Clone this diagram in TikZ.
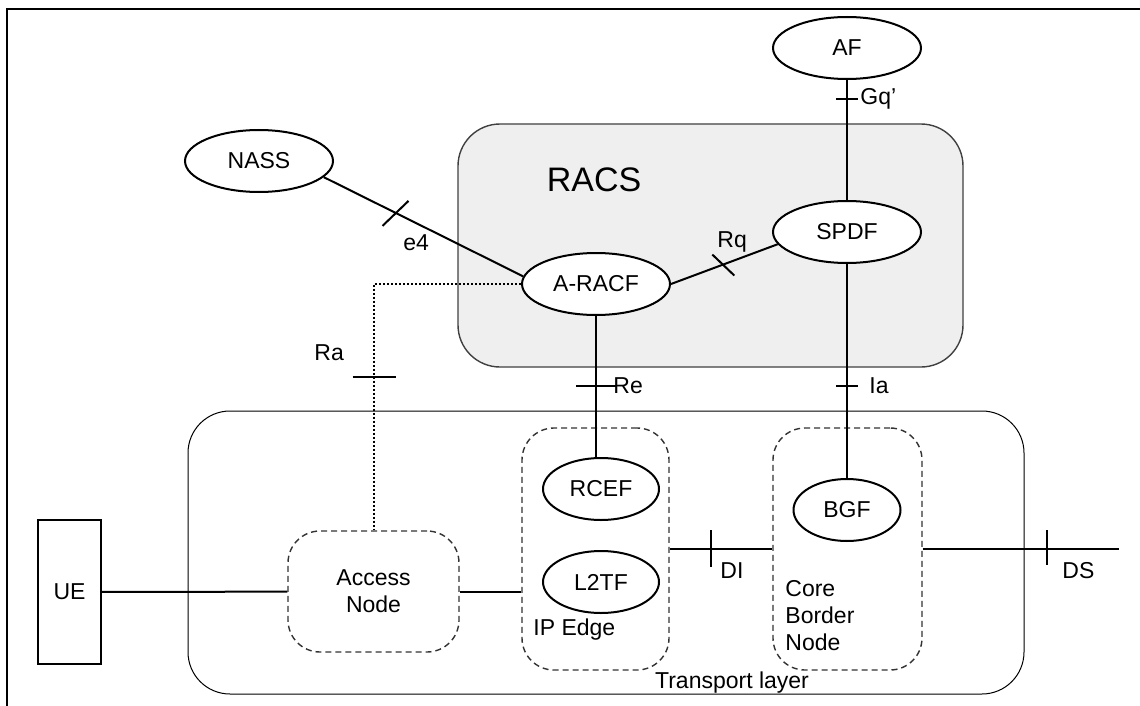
\documentclass[tikz,border=0pt]{standalone}
\usepackage{fontspec}
\setmainfont{Liberation Sans}
\usetikzlibrary{shapes.geometric,positioning,calc}
\definecolor{racsgray}{HTML}{EFEFEF}

\begin{document}
\begin{tikzpicture}[x=0.5pt, y=-0.5pt,
    every node/.style={font=\fontsize{11.5}{13.5}\selectfont, inner sep=0pt},
    fn/.style={draw, ellipse, line width=1pt, fill=white, minimum width=#1, minimum height=31pt},
    fn/.default=74pt,
    grp/.style={draw=black!80, dash pattern=on 3pt off 2pt, line width=0.7pt, rounded corners=16pt},
    conn/.style={line width=1pt},
    ra/.style={line width=1pt, dash pattern=on 1pt off 1pt},
    lbl/.style={anchor=west}]
    \useasboundingbox (0,0) rectangle (1140,706);
    \draw[line width=1pt] (1140,9) -- (7,9) -- (7,706);

    % domains
    \node [draw=black!75, fill=racsgray, line width=0.7pt, rounded corners=21pt, minimum width=252.5pt, minimum height=121.5pt] (racs) at (710.5,245.5) {};
    \node [font=\fontsize{17}{20}\selectfont] (racslbl) at (594,180) {RACS};
    \node [draw, line width=0.5pt, rounded corners=21pt, minimum width=418pt, minimum height=141.5pt] (transport) at (606,552.5) {};
    \node (translbl) at (732,683) {Transport layer};

    % functional entities
    \node [fn] (af) at (847,48) {AF};
    \node [fn] (nass) at (259,161) {NASS};
    \node [fn] (aracf) at (596,284) {A-RACF};
    \node [fn] (spdf) at (847,232) {SPDF};
    \node [grp, minimum width=85.5pt, minimum height=60.5pt, align=center] (access) at (373.5,591.5) {Access\\Node};
    \node [grp, minimum width=73.5pt, minimum height=121pt] (ipedge) at (595.5,549) {};
    \node [grp, minimum width=74.5pt, minimum height=121pt] (cbn) at (847.5,549) {};
    \node [fn=58pt] (rcef) at (601,489) {RCEF};
    \node [fn=58pt] (l2tf) at (601,582) {L2TF};
    \node [fn=53.5pt] (bgf) at (847,510) {BGF};
    \node [draw, line width=1pt, minimum width=31.5pt, minimum height=72pt] (ue) at (69.5,592) {UE};
    \node [lbl] (iplbl) at (533,630) {IP Edge};
    \node [lbl, align=left] (cbnlbl) at (785,616) {Core\\Border\\Node};

    % reference points
    \draw[conn] (af) -- (spdf);
    \draw[conn] (847,99) ++(-11,0) -- ++(22,0);
    \node [lbl] (gqlbl) at (860,99) {Gq'};

    \draw[conn] (nass.-14) -- coordinate[pos=0.36] (e4m) (aracf.174);
    \draw[conn] ($(e4m)+(-13,13)$) -- ($(e4m)+(13,-12)$);
    \node [lbl] (e4lbl) at (403,243) {e4};

    \draw[conn] (aracf.east) -- coordinate[pos=0.49] (rqm) (spdf.190);
    \draw[conn] ($(rqm)+(-11,-10)$) -- ($(rqm)+(11,11)$);
    \node [lbl] (rqlbl) at (717,242) {Rq};

    \draw[conn] (aracf) -- (aracf |- rcef.north);
    \draw[conn] (596,386) ++(-20,0) -- ++(40,0);
    \node [lbl] (relbl) at (613,386) {Re};

    \draw[conn] (spdf) -- (bgf);
    \draw[conn] (847,386) ++(-11,0) -- ++(22,0);
    \node [lbl] (ialbl) at (869,386) {Ia};

    \draw[ra] (aracf.west) -| (access.north);
    \draw[conn] (373.5,377) ++(-21,0) -- ++(43,0);
    \node [lbl] (ralbl) at (314,353) {Ra};

    \draw[conn] (ue) -- (access);
    \draw[conn] (access.east) -- (access.east -| ipedge.west);

    \draw[conn] (ipedge) -- coordinate[pos=0.4] (dim) (cbn);
    \draw[conn] ($(dim)+(0,-19)$) -- ($(dim)+(0,18)$);
    \node [lbl] (dilbl) at (720,571) {DI};

    \coordinate (dsend) at (1119,549);
    \draw[conn] (cbn) -- coordinate[pos=0.635] (dsm) (dsend);
    \draw[conn] ($(dsm)+(0,-19)$) -- ($(dsm)+(0,16)$);
    \node [lbl] (dslbl) at (1062,571) {DS};
\end{tikzpicture}
\end{document}
